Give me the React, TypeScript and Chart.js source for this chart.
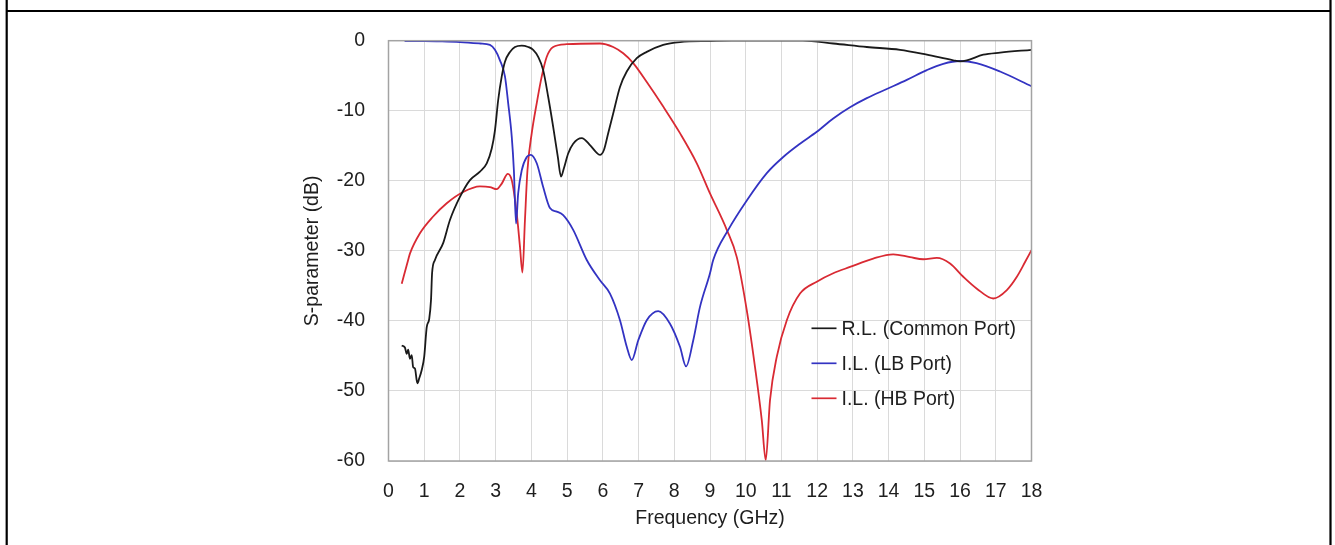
import { useEffect, useRef } from 'react';
import { Chart, registerables } from 'chart.js';

Chart.register(...registerables);

const seriesLabels = ['R.L. (Common Port)', 'I.L. (LB Port)', 'I.L. (HB Port)'];
const seriesColors = ['#1a1a1a', '#3333c2', '#d92a33'];

const xTitle = 'Frequency (GHz)';
const yTitle = 'S-parameter (dB)';
const xMin = 0;
const xMax = 18;
const xStep = 1;
const yMin = -60;
const yMax = 0;
const yStep = 10;

// R.L. (Common Port)
const rlFreq = [0.37, 0.46, 0.51, 0.55, 0.6, 0.65, 0.69, 0.74, 0.79, 0.81, 0.86, 0.93, 1.0, 1.07, 1.14, 1.19, 1.22, 1.3, 1.53, 1.72, 2.0, 2.28, 2.56, 2.75, 2.89, 2.98, 3.07, 3.17, 3.26, 3.4, 3.54, 3.73, 3.91, 4.05, 4.19, 4.33, 4.47, 4.61, 4.74, 4.83, 4.91, 5.03, 5.17, 5.41, 5.64, 5.81, 5.92, 6.03, 6.15, 6.29, 6.48, 6.67, 6.95, 7.23, 7.69, 8.16, 9.0, 9.6, 11.6, 12.45, 13.39, 14.32, 15.07, 15.81, 16.0, 16.19, 16.65, 17.12, 18.0];
const rlDb = [-43.5, -43.8, -44.7, -44.1, -45.4, -44.9, -46.6, -46.8, -48.5, -48.9, -48.2, -47.0, -45.1, -40.9, -39.7, -37.0, -33.2, -31.3, -28.9, -25.6, -22.3, -19.9, -18.7, -17.5, -15.4, -12.8, -8.5, -5.1, -3.0, -1.6, -0.9, -0.7, -0.9, -1.3, -2.3, -4.2, -8.0, -12.3, -16.6, -19.4, -18.2, -16.1, -14.7, -13.9, -14.9, -15.9, -16.3, -15.6, -13.2, -10.4, -6.6, -4.4, -2.5, -1.6, -0.6, -0.2, -0.05, 0, 0, -0.4, -0.9, -1.3, -2.0, -2.8, -2.95, -2.8, -2.0, -1.7, -1.3];

// I.L. (LB Port)
const lbFreq = [0.45, 1.0, 1.5, 2.0, 2.56, 2.84, 2.98, 3.12, 3.26, 3.35, 3.45, 3.51, 3.57, 3.63, 3.73, 3.87, 3.98, 4.15, 4.33, 4.52, 4.71, 4.89, 5.17, 5.55, 5.92, 6.2, 6.48, 6.67, 6.81, 6.99, 7.23, 7.55, 7.88, 8.16, 8.33, 8.53, 8.72, 9.0, 9.09, 9.51, 10.03, 10.59, 11.05, 11.52, 11.99, 12.45, 12.92, 13.39, 13.95, 14.51, 15.07, 15.53, 16.0, 16.46, 17.12, 18.0];
const lbDb = [-0.05, -0.05, -0.1, -0.2, -0.4, -0.6, -1.3, -2.8, -5.1, -8.9, -13.7, -18.5, -26.1, -21.8, -18.5, -16.6, -16.3, -17.5, -20.9, -23.9, -24.4, -24.9, -27.0, -31.3, -34.2, -36.1, -39.9, -43.7, -45.6, -42.8, -39.9, -38.6, -40.4, -43.7, -46.5, -42.8, -38.0, -33.2, -31.3, -27.0, -22.8, -18.9, -16.6, -14.7, -13.0, -11.1, -9.5, -8.2, -6.9, -5.6, -4.2, -3.3, -2.9, -3.2, -4.4, -6.5];

// I.L. (HB Port)
const hbFreq = [0.37, 0.55, 0.6, 0.88, 1.25, 1.63, 2.09, 2.56, 2.84, 3.03, 3.17, 3.34, 3.45, 3.59, 3.68, 3.75, 3.82, 3.89, 4.01, 4.15, 4.29, 4.43, 4.61, 4.99, 5.92, 6.29, 6.57, 6.85, 7.23, 7.69, 8.16, 8.63, 9.0, 9.47, 9.75, 10.03, 10.26, 10.45, 10.56, 10.68, 10.87, 11.15, 11.52, 11.99, 12.45, 12.92, 13.57, 14.13, 14.6, 14.97, 15.35, 15.72, 16.09, 16.47, 16.93, 17.31, 17.59, 17.82, 18.0];
const hbDb = [-34.7, -31.3, -30.4, -27.5, -25.1, -23.2, -21.6, -20.8, -20.9, -21.2, -20.4, -19.0, -19.9, -24.7, -29.4, -33.1, -25.6, -18.5, -13.2, -8.9, -5.1, -2.3, -0.9, -0.5, -0.4, -0.9, -1.8, -3.2, -5.9, -9.4, -13.2, -17.5, -21.8, -27.0, -30.9, -38.5, -46.6, -54.2, -59.9, -51.3, -45.1, -39.9, -36.1, -34.4, -33.2, -32.3, -31.1, -30.5, -30.9, -31.2, -31.0, -31.8, -33.7, -35.4, -36.8, -35.6, -33.7, -31.6, -29.9];

const seriesFreq = [rlFreq, lbFreq, hbFreq];
const seriesDb = [rlDb, lbDb, hbDb];

const FONT = '"Liberation Sans", Arial, sans-serif';
const FONT_SIZE = 19.5;
const TEXT_COLOR = '#1e1e1e';

const framePlugin = {
  id: 'pageFrame',
  beforeDraw(chart: any) {
    const { ctx, width, height } = chart;
    ctx.save();
    ctx.fillStyle = '#ffffff';
    ctx.fillRect(0, 0, width, height);
    ctx.strokeStyle = '#000000';
    ctx.lineWidth = 2.2;
    ctx.beginPath();
    ctx.moveTo(6.7, 0);
    ctx.lineTo(6.7, height);
    ctx.moveTo(width - 4.5, 0);
    ctx.lineTo(width - 4.5, height);
    ctx.moveTo(6.7, 11);
    ctx.lineTo(width - 4.5, 11);
    ctx.stroke();
    ctx.restore();
  },
};

const plotBorderPlugin = {
  id: 'plotBorder',
  afterDatasetsDraw(chart: any) {
    const { ctx, chartArea } = chart;
    ctx.save();
    ctx.strokeStyle = '#a3a3a3';
    ctx.lineWidth = 1.5;
    ctx.strokeRect(chartArea.left, chartArea.top, chartArea.right - chartArea.left, chartArea.bottom - chartArea.top);
    ctx.restore();
  },
};

const legendPlugin = {
  id: 'insideLegend',
  afterDraw(chart: any) {
    const { ctx, chartArea } = chart;
    const x0 = chartArea.left + 423;
    const lineLen = 25;
    const textGap = 5;
    const y0 = chartArea.top + 287.6;
    const rowH = 35;
    ctx.save();
    ctx.font = `${FONT_SIZE}px ${FONT}`;
    ctx.textBaseline = 'middle';
    ctx.textAlign = 'left';
    chart.data.datasets.forEach((ds: any, i: number) => {
      const y = y0 + i * rowH;
      ctx.strokeStyle = ds.borderColor;
      ctx.lineWidth = 1.7;
      ctx.beginPath();
      ctx.moveTo(x0, y);
      ctx.lineTo(x0 + lineLen, y);
      ctx.stroke();
      ctx.fillStyle = TEXT_COLOR;
      ctx.fillText(ds.label, x0 + lineLen + textGap, y + 1);
    });
    ctx.restore();
  },
};

export default function App() {
  const ref = useRef<HTMLCanvasElement | null>(null);

  useEffect(() => {
    if (!ref.current) return;
    const datasets = seriesLabels.map((label, i) => ({
      label,
      data: seriesFreq[i].map((f, j) => ({ x: f, y: seriesDb[i][j] })),
      borderColor: seriesColors[i],
      backgroundColor: seriesColors[i],
      borderWidth: 1.8,
      pointRadius: 0,
      fill: false,
      cubicInterpolationMode: 'monotone' as const,
    }));

    const chart = new Chart(ref.current, {
      type: 'line',
      data: { datasets },
      plugins: [framePlugin, plotBorderPlugin, legendPlugin],
      options: {
        responsive: false,
        animation: false,
        layout: { padding: { left: 0, top: 40.7, right: 303.5, bottom: 0 } },
        plugins: {
          legend: { display: false },
          tooltip: { enabled: false },
        },
        scales: {
          x: {
            type: 'linear',
            min: xMin,
            max: xMax,
            ticks: {
              stepSize: xStep,
              padding: 18.7,
              color: TEXT_COLOR,
              font: { family: FONT, size: FONT_SIZE },
              maxRotation: 0,
              autoSkip: false,
            },
            grid: { color: '#dadada', lineWidth: 1, drawTicks: false },
            border: { display: false },
            title: {
              display: true,
              text: xTitle,
              color: TEXT_COLOR,
              font: { family: FONT, size: FONT_SIZE },
              padding: { top: 0, bottom: 14.3 },
            },
            afterFit: (scale: any) => {
              scale.height = 84;
            },
          },
          y: {
            type: 'linear',
            min: yMin,
            max: yMax,
            ticks: {
              stepSize: yStep,
              padding: 23.5,
              color: TEXT_COLOR,
              font: { family: FONT, size: FONT_SIZE },
            },
            grid: { color: '#dadada', lineWidth: 1, drawTicks: false },
            border: { display: false },
            title: {
              display: true,
              text: yTitle,
              color: TEXT_COLOR,
              font: { family: FONT, size: FONT_SIZE },
              padding: { top: 301, bottom: 0 },
            },
            afterFit: (scale: any) => {
              scale.width = 388.5;
            },
          },
        },
      },
    });
    return () => chart.destroy();
  }, []);

  return (
    <div style={{ position: 'absolute', left: 0, top: 0, width: 1335, height: 545, background: '#fff' }}>
      <canvas ref={ref} width={1335} height={545} style={{ display: 'block' }} />
    </div>
  );
}
